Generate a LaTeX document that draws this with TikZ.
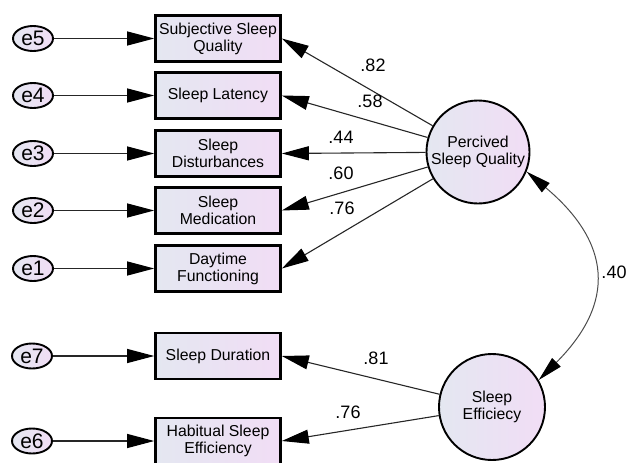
\documentclass[tikz,border=0pt]{standalone}
\usepackage{fontspec}
\setmainfont{Liberation Sans}
\usetikzlibrary{arrows.meta,shapes.geometric}
\definecolor{boxl}{RGB}{228,231,241}
\definecolor{boxr}{RGB}{241,221,245}
\begin{document}
\begin{tikzpicture}[x=1pt, y=-1pt,
    obs/.style={draw, line width=2.6pt, left color=boxl, right color=boxr,
      minimum width=125pt, minimum height=46pt, inner sep=0pt, align=center,
      font=\fontsize{15.8}{17}\selectfont},
    err/.style={ellipse, draw, line width=1.9pt, left color=boxl, right color=boxr,
      minimum width=40pt, minimum height=25pt, inner sep=0pt,
      font=\fontsize{21}{22}\selectfont},
    latent/.style={circle, draw, line width=1.9pt, left color=boxl, right color=boxr,
      inner sep=0pt, align=center, font=\fontsize{15.8}{17}\selectfont},
    arr/.style={-{Triangle[length=27pt,width=14pt,color=black]}, line width=1.1pt, draw=black!85},
    coef/.style={inner sep=0pt, font=\fontsize{18}{20}\selectfont}
  ]
    \useasboundingbox (0,0) rectangle (629,463);
    % Observed indicators
    \node[obs] (subj) at (218,38.5) {Subjective Sleep\\Quality};
    \node[obs] (laten) at (218,95.5) {Sleep Latency};
    \node[obs] (dist) at (218,153.5) {Sleep\\Disturbances};
    \node[obs] (medi) at (218,210.5) {Sleep\\Medication};
    \node[obs] (dayf) at (218,268.5) {Daytime\\Functioning};
    \node[obs] (dura) at (218,356) {Sleep Duration};
    \node[obs] (habi) at (218,441) {Habitual Sleep\\Efficiency};

    % Error terms
    \node[err] (e5) at (33,38.5) {e5};
    \node[err] (e4) at (33,95.5) {e4};
    \node[err] (e3) at (33,153.5) {e3};
    \node[err] (e2) at (33,210.5) {e2};
    \node[err] (e1) at (33,268.5) {e1};
    \node[err] (e7) at (32,356) {e7};
    \node[err] (e6) at (32,441) {e6};

    \draw[arr] (e5) -- (subj);
    \draw[arr] (e4) -- (laten);
    \draw[arr] (e3) -- (dist);
    \draw[arr] (e2) -- (medi);
    \draw[arr] (e1) -- (dayf);
    \draw[arr] (e7) -- (dura);
    \draw[arr] (e6) -- (habi);

    % Latent factors
    \node[latent, minimum size=103pt] (psq) at (478,152) {Percived\\Sleep Quality};
    \node[latent, minimum size=106pt] (seff) at (492,407) {Sleep\\Efficiecy};

    % Loadings
    \draw[arr] (psq) -- (subj.east);
    \draw[arr] (psq) -- (laten.east);
    \draw[arr] (psq) -- (dist.east);
    \draw[arr] (psq) -- (medi.east);
    \draw[arr] (psq) -- (dayf.east);
    \draw[arr] (seff) -- (dura.east);
    \draw[arr] (seff) -- (habi.east);

    \node[coef] (l82) at (373,65) {.82};
    \node[coef] (l58) at (370,101) {.58};
    \node[coef] (l44) at (341,137) {.44};
    \node[coef] (l60) at (341,173) {.60};
    \node[coef] (l76) at (342,208) {.76};
    \node[coef] (l81) at (376,358) {.81};
    \node[coef] (l76b) at (348,412) {.76};

    % Correlation
    \draw[{Triangle[length=25pt,width=12pt,color=black]}-{Triangle[length=25pt,width=12pt,color=black]},
      line width=1pt, draw=black!70]
      (psq.-22) to[out=-40, in=45, looseness=1.35] (seff.30);
    \node[coef] (l40) at (614,272) {.40};
\end{tikzpicture}
\end{document}
